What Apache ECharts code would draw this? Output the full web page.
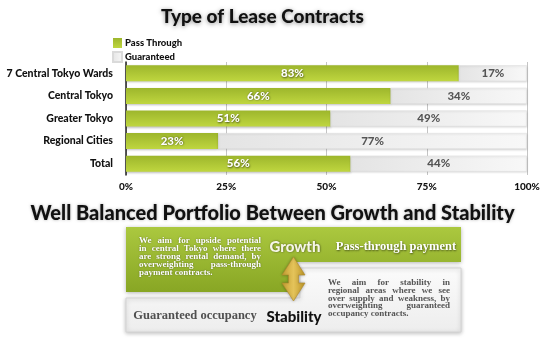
<!DOCTYPE html>
<html><head><meta charset="utf-8">
<script src="https://cdn.jsdelivr.net/npm/echarts@6/dist/echarts.min.js"></script>
<style>html,body{margin:0;padding:0;background:#fff}#c{width:545px;height:341px}</style>
</head><body><div id="c"></div>
<script>
const categories = ['7 Central Tokyo Wards', 'Central Tokyo', 'Greater Tokyo', 'Regional Cities', 'Total'];
const passThrough = [83, 66, 51, 23, 56];
const guaranteed = [17, 34, 49, 77, 44];
const xTickLabels = ['0%', '25%', '50%', '75%', '100%'];
const leftParagraph = ['We aim for upside potential', 'in central Tokyo where there', 'are strong rental demand, by', 'overweighting pass-through', 'payment contracts.'];
const rightParagraph = ['We aim for stability in', 'regional areas where we see', 'over supply and weakness, by', 'overweighting guaranteed', 'occupancy contracts.'];

const SANS = 'Lato, "DejaVu Sans", sans-serif';
const SERIF = '"Liberation Serif", "DejaVu Serif", serif';
const W = 900;
const chart = echarts.init(document.getElementById('c'));
const G = echarts.graphic;

function textWidth(text, font) {
  const t = new G.Text({ style: { text: text, font: font } });
  return t.getBoundingRect().width;
}
function justify(lines, x0, x1, y0, lh, font, fill, shadow) {
  const els = [];
  const target = x1 - x0;
  const spaceW = textWidth('a a', font) - textWidth('aa', font);
  lines.forEach((line, i) => {
    const words = line.split(' ');
    const y = y0 + i * lh;
    const last = i === lines.length - 1;
    const widths = words.map(w => textWidth(w, font));
    const total = widths.reduce((a, b) => a + b, 0);
    const minGap = spaceW * 0.8;
    let gap, sx = 1;
    if (last) {
      gap = spaceW;
    } else {
      gap = (target - total) / (words.length - 1);
      if (gap < minGap) {
        gap = minGap;
        sx = target / (total + minGap * (words.length - 1));
      }
    }
    let x = 0;
    words.forEach((w, j) => {
      els.push({ type: 'text', x: x0 + x * sx, y: y, scaleX: sx, silent: true, z: 20,
        style: Object.assign({ text: w, font: font, fill: fill, verticalAlign: 'middle', align: 'left' }, shadow) });
      x += widths[j] + gap;
    });
  });
  return els;
}

const greenGrad = new G.LinearGradient(0, 0, 0, 1, [{ offset: 0, color: '#9db62c' }, { offset: 1, color: '#bfd63f' }]);
const grayGrad = new G.LinearGradient(0, 0, 1, 0, [{ offset: 0, color: '#e4e4e4' }, { offset: 1, color: '#f8f8f8' }]);
const boxGreen = new G.LinearGradient(0, 0, 0, 1, [{ offset: 0, color: '#abc83f' }, { offset: 1, color: '#88a624' }]);
const boxWhite = new G.LinearGradient(0, 0, 0, 1, [{ offset: 0, color: '#fbfbfb' }, { offset: 1, color: '#ededed' }]);
const arrowGrad = new G.LinearGradient(0, 0, 1, 0, [{ offset: 0, color: '#c9a233' }, { offset: 0.5, color: '#e4c35a' }, { offset: 1, color: '#c09828' }]);

const whiteShadow = { textShadowColor: 'rgba(0,0,0,0.55)', textShadowBlur: 2, textShadowOffsetX: 0.5, textShadowOffsetY: 0.5 };

const graphics = [
  { type: 'polygon', z: 10, shape: { points: [[126, 227], [461, 227], [461, 262], [290, 262], [290, 292], [126, 292]] },
    style: { fill: boxGreen, shadowBlur: 4, shadowColor: 'rgba(0,0,0,0.3)', shadowOffsetY: 1 } },
  { type: 'polygon', z: 10, shape: { points: [[300, 268], [461, 268], [461, 332], [126, 332], [126, 298], [300, 298]] },
    style: { fill: boxWhite, stroke: '#d4d4d4', lineWidth: 1, shadowBlur: 4, shadowColor: 'rgba(0,0,0,0.25)', shadowOffsetY: 1 } },
  { type: 'polygon', z: 15, shape: { points: [[293.5, 257], [305, 275], [298.5, 275], [298.5, 283], [305, 283], [293.5, 301], [282, 283], [288.5, 283], [288.5, 275], [282, 275]] },
    style: { fill: arrowGrad, stroke: '#b08a28', lineWidth: 0.6, shadowBlur: 3, shadowColor: 'rgba(0,0,0,0.3)' } },
  { type: 'text', z: 20, x: 295, y: 247, style: Object.assign({ text: 'Growth', font: W + ' 15px ' + SANS, fill: '#f6f6e6', align: 'center', verticalAlign: 'middle' }, whiteShadow) },
  { type: 'text', z: 20, x: 396, y: 247, style: Object.assign({ text: 'Pass-through payment', font: 'bold 12.5px ' + SERIF, fill: '#ffffff', align: 'center', verticalAlign: 'middle' }, whiteShadow) },
  { type: 'text', z: 20, x: 195, y: 316, style: { text: 'Guaranteed occupancy', font: 'bold 12.5px ' + SERIF, fill: '#505050', align: 'center', verticalAlign: 'middle' } },
  { type: 'text', z: 20, x: 294, y: 317, style: { text: 'Stability', font: W + ' 15px ' + SANS, fill: '#111111', align: 'center', verticalAlign: 'middle' } }
].concat(
  justify(leftParagraph, 139, 261, 241, 7.9, 'bold 9px ' + SERIF, '#ffffff', { textShadowColor: 'rgba(0,0,0,0.5)', textShadowBlur: 1.5 }),
  justify(rightParagraph, 328, 450, 283, 7.7, 'bold 9px ' + SERIF, '#555555', {})
);

chart.setOption({
  animation: false,
  title: [
    { text: 'Type of Lease Contracts', left: 156, top: 2,
      textStyle: { fontFamily: SANS, fontWeight: W, fontSize: 19, color: '#111', textShadowColor: 'rgba(0,0,0,0.45)', textShadowBlur: 4, textShadowOffsetY: 1 } },
    { text: 'Well Balanced Portfolio Between Growth and Stability', left: 'center', top: 199,
      textStyle: { fontFamily: SANS, fontWeight: W, fontSize: 20, color: '#111', textShadowColor: 'rgba(0,0,0,0.3)', textShadowBlur: 3 } }
  ],
  legend: {
    orient: 'vertical', left: 107, top: 33, itemWidth: 9, itemHeight: 10, itemGap: 3,
    icon: 'rect',
    textStyle: { fontFamily: SANS, fontWeight: W, fontSize: 9.5, color: '#111', padding: [0, 0, 0, -2] },
    data: ['Pass Through', 'Guaranteed']
  },
  grid: { left: 126, right: 18, top: 62, bottom: 166, containLabel: false },
  xAxis: {
    type: 'value', min: 0, max: 100, interval: 25,
    axisLine: { show: false }, axisTick: { show: false },
    splitLine: { show: true, lineStyle: { color: '#c4c4c4', width: 1 } },
    axisLabel: { formatter: (v) => xTickLabels[Math.round(v / 25)], fontFamily: SANS, fontWeight: W, fontSize: 10, color: '#111', margin: 7 }
  },
  yAxis: {
    type: 'category', inverse: true, data: categories,
    axisLine: { show: true, lineStyle: { color: '#222', width: 1.5 } },
    axisTick: { show: false },
    axisLabel: { fontFamily: SANS, fontWeight: W, fontSize: 10.5, color: '#111', margin: 13 }
  },
  series: [
    { name: 'Pass Through', type: 'bar', stack: 's', barWidth: 16, data: passThrough,
      itemStyle: { color: greenGrad, shadowColor: 'rgba(0,0,0,0.25)', shadowBlur: 2, shadowOffsetY: 1 },
      label: { show: true, position: 'inside', formatter: '{c}%', fontFamily: SANS, fontWeight: W, fontSize: 11.5, color: '#fff',
        textShadowColor: 'rgba(0,0,0,0.6)', textShadowBlur: 2, textShadowOffsetX: 0.5, textShadowOffsetY: 0.5 } },
    { name: 'Guaranteed', type: 'bar', stack: 's', barWidth: 16, data: guaranteed,
      itemStyle: { color: grayGrad, borderColor: '#dadada', borderWidth: 0.5, shadowColor: 'rgba(0,0,0,0.15)', shadowBlur: 2, shadowOffsetY: 1 },
      label: { show: true, position: 'inside', formatter: '{c}%', fontFamily: SANS, fontWeight: W, fontSize: 11.5, color: '#555',
        textShadowColor: 'rgba(255,255,255,0.8)', textShadowBlur: 1 } }
  ],
  graphic: graphics
});
</script></body></html>
